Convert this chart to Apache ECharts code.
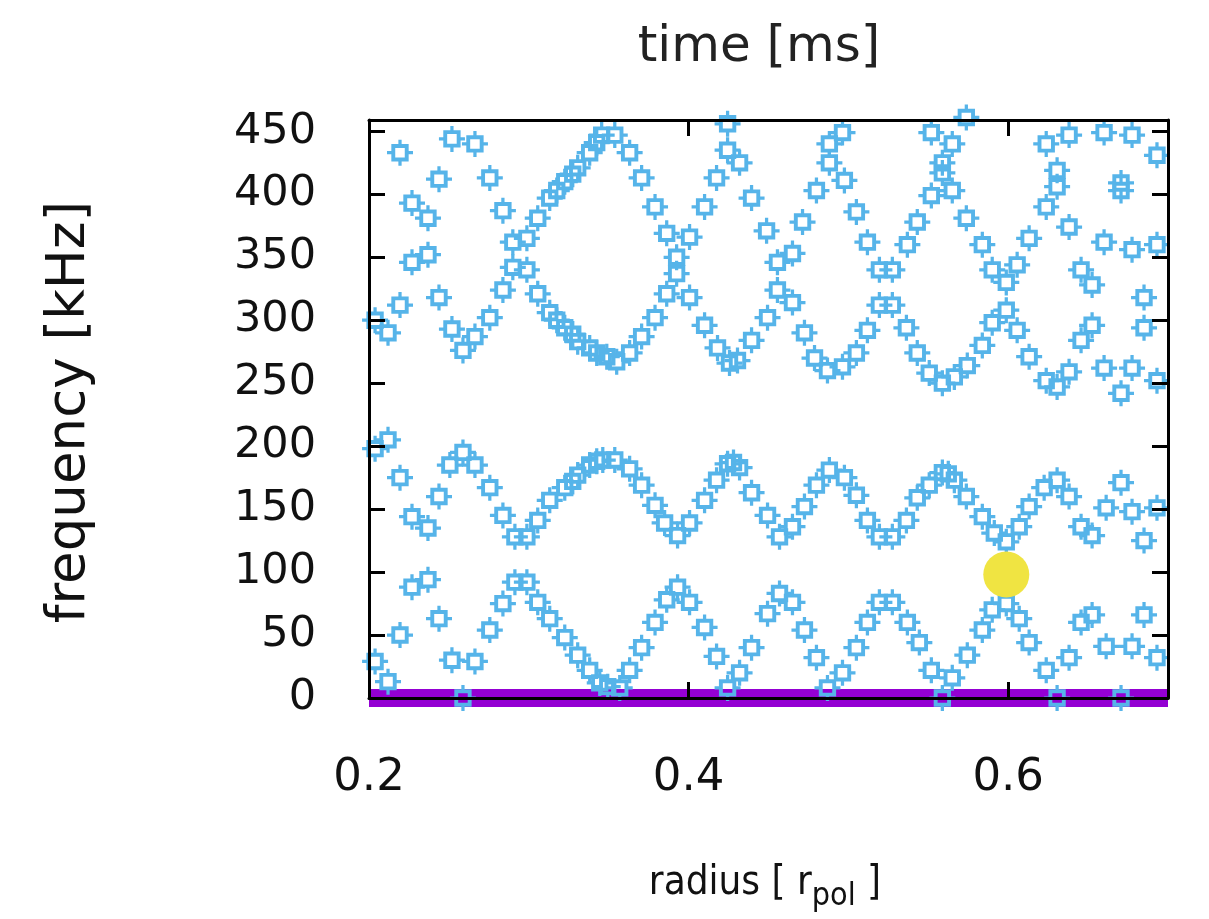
<!DOCTYPE html>
<html><head><meta charset="utf-8">
<script src="https://cdn.jsdelivr.net/npm/echarts@6/dist/echarts.min.js"></script>
<style>html,body{margin:0;padding:0;background:#fff}#c{width:1209px;height:919px}</style>
</head><body><div id="c"></div>
<script>
// ---- data (radius [r_pol], frequency [kHz]) ----
const upperBand = [
[0.2038,300],[0.2119,290],[0.2194,312],[0.2194,433],[0.2269,393],[0.2369,381],[0.2269,346],[0.2369,352],
[0.2438,412],[0.2438,318],[0.2519,444],[0.2519,293],[0.2588,276],[0.2663,287],[0.2663,440],[0.2756,413],
[0.2756,302],[0.2838,387],[0.2838,324],[0.29,362],[0.2988,365],[0.29,342],[0.2988,340],
[0.3056,381],[0.3131,397],[0.3175,403],[0.3225,410],[0.3275,416],[0.3306,421],[0.3381,433],[0.3425,441],[0.3456,447],
[0.3538,447],[0.3631,433],[0.3706,413],[0.379,390],
[0.3056,321],[0.3131,306],[0.3175,300],[0.3225,294],[0.3275,289],[0.3306,283],[0.3381,278],[0.3425,274],[0.3488,271],
[0.355,267],[0.3631,274],[0.3706,287],[0.379,302],
[0.3863,369],[0.4006,366],[0.3925,350],[0.3925,337],[0.3863,321],[0.4006,318],
[0.41,390],[0.4175,413],[0.4244,435],[0.4244,456],[0.4319,425],[0.4394,397],[0.4488,371],
[0.41,296],[0.4181,278],[0.4256,266],[0.4306,268],[0.4394,284],[0.4494,302],
[0.4556,324],[0.465,314],[0.4556,346],[0.465,353],
[0.4713,378],[0.48,403],[0.4881,425],[0.4881,440],[0.4963,449],[0.4975,411],[0.505,386],[0.5119,362],
[0.4725,290],[0.4788,270],[0.4869,260],[0.4963,263],[0.505,274],[0.5119,292],
[0.5194,312],[0.5275,312],[0.5194,340],[0.5275,340],
[0.5369,360],[0.5431,378],[0.5519,399],[0.5588,417],[0.5588,425],[0.565,440],[0.5519,449],[0.565,403],
[0.5363,294],[0.5431,274],[0.5506,258],[0.5588,250],[0.5663,255],
[0.5738,461],[0.5738,381],[0.5838,360],[0.59,340],[0.5988,330],[0.6056,344],[0.6131,365],
[0.5988,308],[0.59,298],[0.6056,292],[0.6131,271],[0.6238,252],[0.6306,247],[0.6381,259],
[0.5838,280],[0.5744,264],
[0.6238,440],[0.6381,447],[0.6306,419],[0.6306,406],[0.6238,390],[0.6381,374],
[0.6456,340],[0.6525,328],[0.6525,296],[0.6456,284],
[0.66,449],[0.6775,447],[0.6931,431],[0.6706,403],[0.6706,409],
[0.66,362],[0.6775,356],[0.6931,360],[0.685,318],[0.685,294],
[0.66,262],[0.6775,262],[0.6706,242],[0.6931,252]
];
const middleBand = [
[0.2038,198],[0.2119,205],[0.2194,175],[0.2269,144],[0.2369,135],[0.2438,160],[0.2506,185],[0.2588,195],
[0.2663,185],[0.2756,167],[0.2838,145],[0.2913,128],[0.2988,128],[0.3056,141],[0.3131,157],[0.3225,167],
[0.3275,172],[0.3306,177],[0.3381,185],[0.3425,188],[0.3463,189],[0.3538,189],[0.3631,182],[0.3706,169],[0.379,153],
[0.385,139],[0.3931,129],[0.4006,139],[0.41,157],[0.4175,173],[0.4244,186],[0.4281,187],[0.4319,183],[0.4394,163],
[0.4494,145],[0.4569,128],[0.465,136],[0.4725,152],[0.48,169],[0.4881,181],[0.4975,175],[0.505,161],
[0.5119,141],[0.5194,128],[0.5275,128],[0.5363,141],[0.5431,159],[0.5506,169],[0.5588,179],[0.5625,178],[0.5663,173],
[0.5738,160],[0.5838,144],[0.5913,131],[0.5988,124],[0.6069,136],[0.6131,152],[0.6225,167],[0.6306,173],
[0.6381,160],[0.6456,136],[0.6525,129],[0.6613,151],[0.6706,171],[0.6775,148],[0.6931,151],[0.685,125]
];
const lowerBand = [
[0.2038,29],[0.2119,13],[0.2194,50],[0.2269,88],[0.2369,94],[0.2438,63],[0.2519,30],[0.2588,0],[0.2663,29],
[0.2756,54],[0.2838,75],[0.2913,92],[0.2988,92],[0.3056,76],[0.3131,63],[0.3225,48],[0.3306,34],[0.3381,22],
[0.3444,12],[0.3494,9],[0.3569,8],[0.3631,22],[0.3706,40],[0.379,60],
[0.3863,78],[0.3931,88],[0.4006,76],[0.41,56],[0.4175,33],[0.4244,8],[0.4319,20],[0.4394,40],[0.4494,67],
[0.4569,83],[0.465,76],[0.4725,54],[0.48,32],[0.4869,8],[0.4963,20],[0.505,40],[0.5119,60],[0.5194,76],
[0.5275,76],[0.5369,60],[0.5444,44],[0.5519,22],[0.5588,0],[0.565,16],
[0.5744,34],[0.5838,54],[0.59,70],[0.5988,75],[0.6069,63],[0.6131,44],[0.6238,22],[0.6306,0],[0.6381,32],
[0.6456,60],[0.6525,66],[0.6613,41],[0.6706,0],[0.6775,41],[0.685,66],[0.6931,32]
];
const highlightPoint = [[0.5988, 98]];
const baseline = [[0.2, 0], [0.7, 0]];
const xTickLabels = [0.2, 0.4, 0.6];
const yTickLabels = [0, 50, 100, 150, 200, 250, 300, 350, 400, 450];

// ---- drawing ----
const BLUE = '#56b4e9';
const markerPath = 'path://M4 4 L10.5 4 L10.5 0 L13.5 0 L13.5 4 L20 4 L20 10.5 L24 10.5 L24 13.5 L20 13.5 L20 20 L13.5 20 L13.5 24 L10.5 24 L10.5 20 L4 20 L4 13.5 L0 13.5 L0 10.5 L4 10.5 Z M7.6 7.6 L7.6 16.4 L16.4 16.4 L16.4 7.6 Z';
const FONT = 'DejaVu Sans';
const chart = echarts.init(document.getElementById('c'), null, {renderer: 'canvas'});
const axisLineStyle = {color: '#000', width: 3};
const tickStyle = {color: '#000', width: 3};
const allBlue = upperBand.concat(middleBand, lowerBand);
chart.setOption({
  animation: false,
  backgroundColor: '#fff',
  grid: {left: 369, right: 41, top: 120, bottom: 221, containLabel: false},
  xAxis: [{
    type: 'value', min: 0.2, max: 0.7, interval: 0.2, position: 'bottom', z: 10,
    axisLine: {show: true, onZero: false, lineStyle: axisLineStyle},
    axisTick: {show: true, inside: true, length: 16, lineStyle: tickStyle},
    splitLine: {show: false},
    axisLabel: {margin: 58, fontSize: 45, fontFamily: FONT, color: '#111',
      formatter: v => xTickLabels.some(t => Math.abs(t - v) < 1e-9) ? v.toFixed(1) : ''}
  }, {
    type: 'value', min: 0.2, max: 0.7, interval: 0.2, position: 'top', z: 10,
    axisLine: {show: true, onZero: false, lineStyle: axisLineStyle},
    axisTick: {show: true, inside: true, length: 16, lineStyle: tickStyle},
    splitLine: {show: false}, axisLabel: {show: false}
  }],
  yAxis: [{
    type: 'value', min: 0, max: 459, interval: 50, position: 'left', z: 10,
    axisLine: {show: true, onZero: false, lineStyle: axisLineStyle},
    axisTick: {show: true, inside: true, length: 16, lineStyle: tickStyle},
    splitLine: {show: false},
    axisLabel: {margin: 53, fontSize: 43, fontFamily: FONT, color: '#111', showMaxLabel: false,
      formatter: v => yTickLabels.indexOf(v) >= 0 ? String(v) : ''}
  }, {
    type: 'value', min: 0, max: 459, interval: 50, position: 'right', z: 10,
    axisLine: {show: true, onZero: false, lineStyle: axisLineStyle},
    axisTick: {show: true, inside: true, length: 16, lineStyle: tickStyle},
    splitLine: {show: false}, axisLabel: {show: false}
  }],
  series: [{
    type: 'line', data: baseline, xAxisIndex: 0, yAxisIndex: 0, z: 1,
    symbol: 'none', lineStyle: {color: '#9400d3', width: 18}, silent: true
  }, {
    type: 'scatter', data: allBlue, xAxisIndex: 0, yAxisIndex: 0, z: 2,
    symbol: markerPath, symbolSize: 26, itemStyle: {color: BLUE, opacity: 1}, silent: true, clip: false
  }, {
    type: 'scatter', data: highlightPoint, xAxisIndex: 0, yAxisIndex: 0, z: 3,
    symbol: 'circle', symbolSize: 46, itemStyle: {color: '#f0e442', opacity: 1}, silent: true
  }],
  graphic: [{
    type: 'text', x: 759, y: 48, z: 100,
    style: {text: 'time [ms]', font: '50px "DejaVu Sans"', fill: '#222', align: 'center', verticalAlign: 'middle'}
  }, {
    type: 'text', x: 70, y: 412, rotation: Math.PI / 2, z: 100,
    style: {text: 'frequency [kHz]', font: '53px "DejaVu Sans"', fill: '#111', align: 'center', verticalAlign: 'middle'}
  }, {
    type: 'text', x: 765, y: 884, z: 100,
    style: {
      text: 'radius [ r{sub|pol} ]', fontFamily: 'DejaVu Sans Condensed', fontSize: 40, fill: '#111',
      align: 'center', verticalAlign: 'middle',
      rich: {sub: {fontFamily: 'DejaVu Sans Condensed', fontSize: 32, padding: [26, 0, 0, 0]}}
    }
  }]
});
</script>
</body></html>
